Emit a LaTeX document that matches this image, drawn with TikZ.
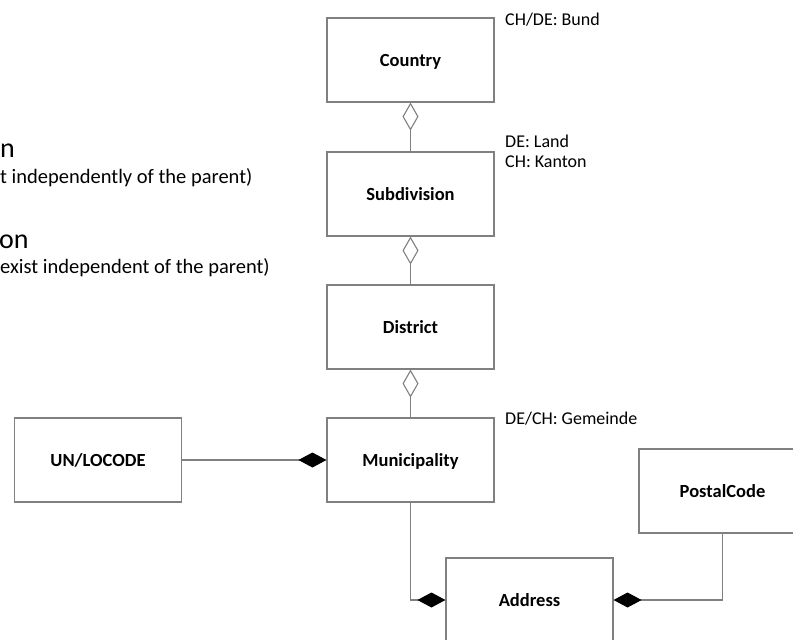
\documentclass[tikz,border=0pt]{standalone}
\usepackage{fontspec}
\setmainfont{Carlito}
\usetikzlibrary{arrows.meta}
\definecolor{linegray}{RGB}{128,128,128}
\begin{document}
\begin{tikzpicture}[x=1pt,y=-1pt,
  entity/.style={draw=linegray, line width=1.1pt, fill=white,
    minimum width=167pt, minimum height=84pt, inner sep=0pt, text depth=0pt,
    font=\fontsize{18.5}{22}\selectfont\bfseries},
  note/.style={anchor=base west, inner sep=0pt, font=\fontsize{18}{22}\selectfont},
  heading/.style={inner sep=0pt, anchor=base west, font=\fontsize{28}{32}\selectfont},
  subline/.style={inner sep=0pt, anchor=base west, font=\fontsize{20.5}{25}\selectfont},
  link/.style={draw=linegray, line width=1.1pt},
  agg/.style={link, -{Diamond[open, length=28pt, width=16pt]}},
  comp/.style={link, -{Diamond[length=28pt, width=15pt, color=black, fill=black]}}]
\useasboundingbox (0,0) rectangle (793,640);
\begin{scope}
\clip (0,0) rectangle (793,640);

% legend fragments on the left
\node[heading] (aggtitle) at (0,157) {n};
\node[subline] (aggtext) at (0,183) {t independently of the parent)};
\node[heading] (comptitle) at (-1,248) {on};
\node[subline] (comptext) at (0,273) {exist independent of the parent)};

% entities
\node[entity] (country) at (410.5,60)  {Country};
\node[entity] (subdiv)  at (410.5,194) {Subdivision};
\node[entity] (district) at (410.5,327) {District};
\node[entity] (muni)    at (410.5,460) {Municipality};
\node[entity] (locode)  at (98,460)    {UN/LOCODE};
\node[entity] (postal)  at (722.5,491) {PostalCode};
\node[entity] (address) at (529.5,600) {Address};

% notes
\node[note] (bund) at (505,25) {CH/DE: Bund};
\node[note] (land) at (505,147) {DE: Land};
\node[note] (kanton) at (505,167) {CH: Kanton};
\node[note] (gemeinde) at (505,424) {DE/CH: Gemeinde};

% aggregations
\draw[agg] (subdiv.north) -- (country.south);
\draw[agg] (district.north) -- (subdiv.south);
\draw[agg] (muni.north) -- (district.south);

% compositions
\draw[comp] (locode.east) -- (muni.west);
\draw[comp] (muni.south) |- (address.west);
\draw[comp] (postal.south) |- (address.east);
\end{scope}
\end{tikzpicture}
\end{document}
